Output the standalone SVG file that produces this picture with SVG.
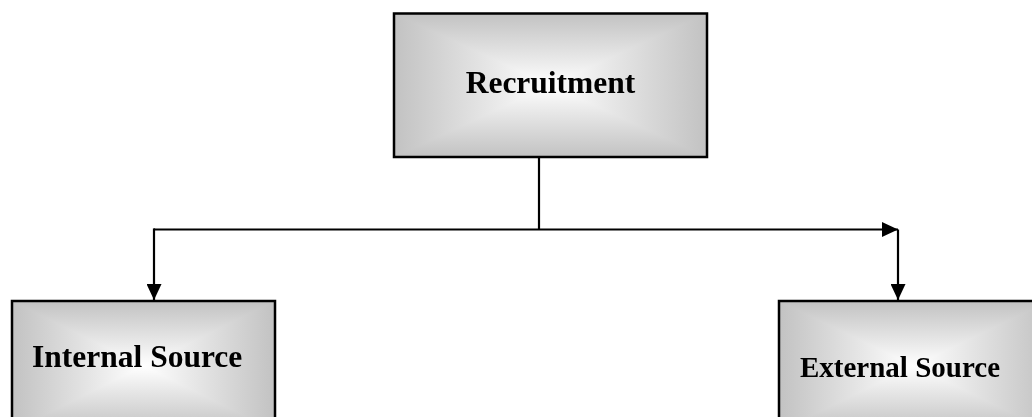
<svg xmlns="http://www.w3.org/2000/svg" width="1032" height="417" viewBox="0 0 1032 417">
<style>
.fh{fill:url(#gh)}
.fv{fill:url(#gv);mix-blend-mode:darken}
.bd{stroke:#000;stroke-width:2.5;fill:none}
.nd{isolation:isolate}
.lbl{font-family:"Liberation Serif","Times New Roman",serif;font-weight:bold;fill:#000}
.ln{stroke:#000;stroke-width:2.2;fill:none}
</style>
<defs>
<linearGradient id="gh" x1="0" y1="0" x2="1" y2="0">
<stop offset="0" stop-color="#c2c2c2"/>
<stop offset="0.3" stop-color="#e6e6e6"/>
<stop offset="0.5" stop-color="#ffffff"/>
<stop offset="0.7" stop-color="#e6e6e6"/>
<stop offset="1" stop-color="#c2c2c2"/>
</linearGradient>
<linearGradient id="gv" x1="0" y1="0" x2="0" y2="1">
<stop offset="0" stop-color="#c2c2c2"/>
<stop offset="0.3" stop-color="#e6e6e6"/>
<stop offset="0.5" stop-color="#ffffff"/>
<stop offset="0.7" stop-color="#e6e6e6"/>
<stop offset="1" stop-color="#c2c2c2"/>
</linearGradient>
<marker id="ah" viewBox="0 0 16 15" refX="16" refY="7.5" markerWidth="16" markerHeight="15" markerUnits="userSpaceOnUse" orient="auto">
<path d="M0,0 L16,7.5 L0,15 Z" fill="#000"/>
</marker>
</defs>
<rect width="1032" height="417" fill="#fff"/>
<g id="connectors">
<line class="ln" x1="539" y1="157" x2="539" y2="229.5"/>
<line class="ln" x1="154" y1="229.5" x2="898" y2="229.5" marker-end="url(#ah)"/>
<line class="ln" x1="154" y1="228.4" x2="154" y2="300" marker-end="url(#ah)"/>
<line class="ln" x1="898" y1="229.5" x2="898" y2="300" marker-end="url(#ah)"/>
</g>
<g id="recruitment" class="nd">
<rect class="fh" x="394" y="13.5" width="313" height="143.5"/>
<rect class="fv" x="394" y="13.5" width="313" height="143.5"/>
<rect class="bd" x="394" y="13.5" width="313" height="143.5"/>
<text class="lbl" x="550.5" y="93" font-size="31.5" text-anchor="middle">Recruitment</text>
</g>
<g id="internal" class="nd">
<rect class="fh" x="12" y="301" width="263" height="130"/>
<rect class="fv" x="12" y="301" width="263" height="130"/>
<rect class="bd" x="12" y="301" width="263" height="130"/>
<text class="lbl" x="32" y="367" font-size="31.5">Internal Source</text>
</g>
<g id="external" class="nd">
<rect class="fh" x="779" y="301" width="270" height="130"/>
<rect class="fv" x="779" y="301" width="270" height="130"/>
<rect class="bd" x="779" y="301" width="270" height="130"/>
<text class="lbl" x="800" y="377" font-size="29">External Source</text>
</g>
</svg>
